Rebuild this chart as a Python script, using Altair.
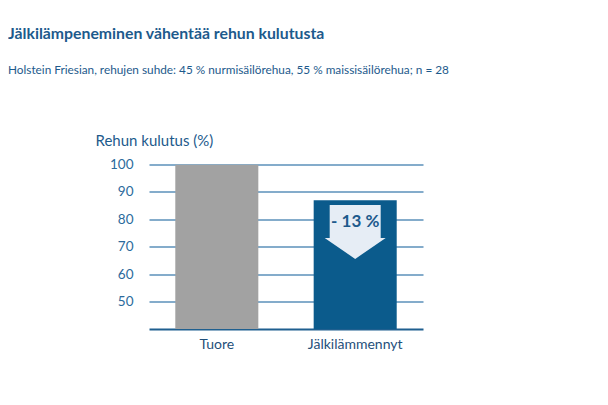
import altair as alt
import pandas as pd

categories = ["Tuore", "Jälkilämmennyt"]
values = [100, 87]
bar_colors = ["#a2a2a2", "#0b5b8c"]

annot_cat = ["Jälkilämmennyt"]
annot_label = ["- 13 %"]
arrow_level = [75.4]
label_level = [79.0]

y_ticks = [50, 60, 70, 80, 90, 100]

FONT = "Lato"
BLUE_TXT = "#1d5a8c"

df = pd.DataFrame({"cat": categories, "val": values, "col": bar_colors})
ann = pd.DataFrame({"cat": annot_cat, "lab": annot_label, "ay": arrow_level, "ly": label_level})

x_axis = alt.Axis(
    title=None,
    labelAngle=0,
    labelFont=FONT,
    labelFontSize=14,
    labelColor="#1f4f7a",
    labelPadding=8,
    ticks=False,
    domainColor="#1f5f8f",
    domainWidth=2,
    grid=False,
)
x_scale = alt.Scale(paddingInner=0.4, paddingOuter=0.19)
y_scale = alt.Scale(domain=[40, 100], nice=False, zero=False)
y_axis = alt.Axis(
    values=y_ticks,
    title="Rehun kulutus (%)",
    titleAngle=0,
    titleAlign="left",
    titleBaseline="alphabetic",
    titleX=-54,
    titleY=-19,
    titleFont=FONT,
    titleFontSize=15,
    titleFontWeight="normal",
    titleColor=BLUE_TXT,
    labelFont=FONT,
    labelFontSize=13.5,
    labelColor="#2c6a9c",
    labelPadding=16,
    labelOverlap=False,
    ticks=False,
    domain=False,
    grid=True,
    gridColor="#5b90ba",
    gridWidth=1.5,
)

bars = alt.Chart(df).mark_bar(clip=True).encode(
    x=alt.X("cat:N", sort=categories, scale=x_scale, axis=x_axis),
    y=alt.Y("val:Q", scale=y_scale, axis=y_axis),
    color=alt.Color("col:N", scale=None),
)

arrow_path = "M -0.836 -0.885 L 0.836 -0.885 L 0.836 0.197 L 1 0.197 L 0 0.885 L -1 0.197 L -0.836 0.197 Z"
arrow = alt.Chart(ann).mark_point(
    shape=arrow_path, filled=True, size=3721, color="#e6edf5", opacity=1, strokeWidth=0
).encode(
    x=alt.X("cat:N", sort=categories, scale=x_scale, axis=x_axis),
    y=alt.Y("ay:Q", scale=y_scale, axis=y_axis),
)

label = alt.Chart(ann).mark_text(
    font=FONT, fontSize=17, fontWeight="bold", color=BLUE_TXT, baseline="middle"
).encode(
    x=alt.X("cat:N", sort=categories, scale=x_scale, axis=x_axis),
    y=alt.Y("ly:Q", scale=y_scale, axis=y_axis),
    text="lab:N",
)

chart = (
    alt.layer(bars, arrow, label)
    .properties(
        width=274,
        height=164.5,
        background="white",
        autosize=alt.AutoSizeParams(type="none"),
        padding={"left": 141, "top": 156.5, "right": 177, "bottom": 68},
        title=alt.TitleParams(
            text="Jälkilämpeneminen vähentää rehun kulutusta",
            subtitle="Holstein Friesian, rehujen suhde: 45 % nurmisäilörehua, 55 % maissisäilörehua; n = 28",
            anchor="start",
            frame="group",
            dx=-141,
            offset=56,
            font=FONT,
            fontSize=15.8,
            fontWeight="bold",
            color=BLUE_TXT,
            subtitleFont=FONT,
            subtitleFontSize=11.8,
            subtitleColor=BLUE_TXT,
            subtitlePadding=22,
        ),
    )
    .configure_view(strokeWidth=0)
)

chart.save("out.html", embed_options={"renderer": "svg", "actions": False})
